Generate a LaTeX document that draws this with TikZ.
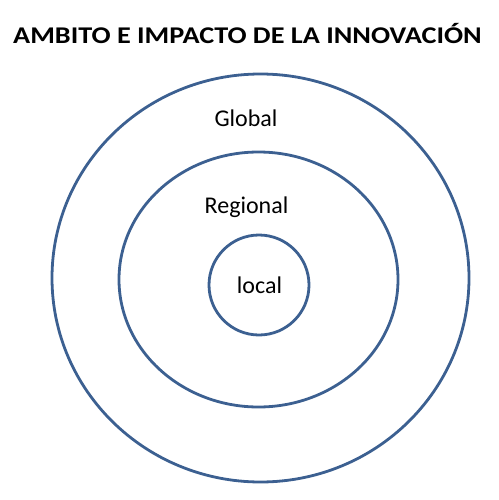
\documentclass[tikz,border=0pt]{standalone}
\usepackage{fontspec}
\setmainfont{Carlito}
\definecolor{ringblue}{RGB}{60,96,145}
\begin{document}
\begin{tikzpicture}[x=1pt,y=-1pt,
  ring/.style={draw=ringblue,line width=2.8pt},
  lbl/.style={anchor=base,inner sep=0pt,font=\fontsize{24}{28}\selectfont}]
\useasboundingbox (0,0) rectangle (498,500);
\node[anchor=base,inner sep=0pt,font=\bfseries\fontsize{24}{28}\selectfont] (title) at (247.5,44) {\scalebox{1.176}[1]{AMBITO E IMPACTO DE LA INNOVACIÓN}};
\draw[ring] (260.5,278) ellipse [x radius=208.5, y radius=204];
\draw[ring] (258.5,279.5) ellipse [x radius=139.5, y radius=127.5];
\draw[ring] (259,285) circle [radius=50];
\node[lbl] (global) at (246,127) {Global};
\node[lbl] (regional) at (246.5,213) {Regional};
\node[lbl] (local) at (259.5,293) {local};
\end{tikzpicture}
\end{document}
